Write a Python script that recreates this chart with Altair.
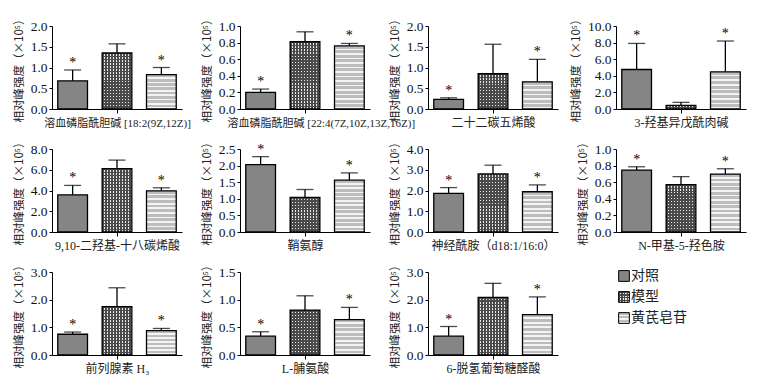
import altair as alt
import pandas as pd

# ---------------- data ----------------
names = ["溶血磷脂酰胆碱 [18:2(9Z,12Z)]", "溶血磷脂酰胆碱 [22:4(7Z,10Z,13Z,16Z)]",
         "二十二碳五烯酸", "3-羟基异戊酰肉碱",
         "9,10-二羟基-十八碳烯酸", "鞘氨醇", "神经酰胺（d18:1/16:0）", "N-甲基-5-羟色胺",
         "前列腺素 H₃", "L-脯氨酸", "6-脱氢葡萄糖醛酸"]
groups = ["对照", "模型", "黄芪皂苷"]
stars = ["*", "", "*"]

ymax = [2.0, 1.0, 2.0, 10.0, 8.0, 2.5, 4.0, 1.0, 3.0, 1.5, 3.0]
ystep = [0.5, 0.2, 0.5, 2.0, 2.0, 0.5, 1.0, 0.2, 1.0, 0.5, 1.0]

ctrl_mean = [0.68, 0.20, 0.23, 4.76, 3.58, 2.03, 1.86, 0.746, 0.75, 0.34, 0.68]
ctrl_sd = [0.26, 0.04, 0.04, 3.14, 0.91, 0.24, 0.28, 0.04, 0.08, 0.08, 0.35]
model_mean = [1.35, 0.81, 0.85, 0.44, 6.11, 1.04, 2.80, 0.571, 1.75, 0.81, 2.08]
model_sd = [0.22, 0.12, 0.71, 0.36, 0.82, 0.24, 0.42, 0.096, 0.68, 0.26, 0.51]
treat_mean = [0.83, 0.76, 0.656, 4.48, 3.97, 1.56, 1.94, 0.698, 0.88, 0.64, 1.46]
treat_sd = [0.17, 0.03, 0.54, 3.71, 0.29, 0.22, 0.33, 0.064, 0.08, 0.22, 0.64]

YTITLE = "相对峰强度（×10⁵）"
SERIF = "Liberation Serif, Noto Sans CJK SC"
CJK = "Noto Sans CJK SC, Liberation Serif"

W, H = 130, 83
CTRL_FILL = "#858585"
DARK = "#4a4a4a"
LIGHT = "#e8e8e8"
TGRAY = "#bdbdbd"
TWHITE = "#f4f4f4"
CLEAR = "rgba(0,0,0,0)"


def stripes(n, c1, c2, frac, vertical_stack=True):
    stops = []
    for k in range(n):
        a = k / n
        b = (k + frac) / n
        e = (k + 1) / n
        stops += [{"offset": a, "color": c1}, {"offset": b, "color": c1},
                  {"offset": b, "color": c2}, {"offset": e, "color": c2}]
    if vertical_stack:
        return {"gradient": "linear", "x1": 0, "y1": 0, "x2": 0, "y2": 1, "stops": stops}
    return {"gradient": "linear", "x1": 0, "y1": 0, "x2": 1, "y2": 0, "stops": stops}


def panel(i):
    df = pd.DataFrame({
        "group": groups,
        "mean": [ctrl_mean[i], model_mean[i], treat_mean[i]],
        "sd": [ctrl_sd[i], model_sd[i], treat_sd[i]],
        "star": stars,
    })
    df["upper"] = df["mean"] + df["sd"]
    nt = int(round(ymax[i] / ystep[i]))
    ticks = [round(k * ystep[i], 2) for k in range(nt + 1)]

    xs = alt.Scale(domain=groups, paddingInner=0.33, paddingOuter=0.13)
    if i == 1:
        xa = alt.Axis(values=["模型"], labels=False, title=names[i], titleFontSize=11,
                      titleAnchor="start", titleAlign="left", titleX=-13)
    elif i == 0:
        xa = alt.Axis(values=["模型"], labels=False, title=names[i], titleFontSize=11)
    else:
        xa = alt.Axis(values=["模型"], labels=False, title=names[i])
    X = alt.X("group:N", scale=xs, axis=xa)
    ys = alt.Scale(domain=[0, ymax[i]], nice=False, zero=True)
    ya = alt.Axis(values=ticks, format=".1f", title=YTITLE)

    def Y(f):
        return alt.Y(f + ":Q", scale=ys, axis=ya)

    base = alt.Chart(df)
    n_m = max(2, round(model_mean[i] / ymax[i] * H / 3.0))
    n_t = max(2, round(treat_mean[i] / ymax[i] * H / 4.4))

    c = base.transform_filter(alt.datum.group == "对照").mark_bar(
        fill=CTRL_FILL, stroke="black", strokeWidth=1.3).encode(x=X, y=Y("mean"))
    m1 = base.transform_filter(alt.datum.group == "模型").mark_bar(
        fill=stripes(10, DARK, LIGHT, 0.55, False)).encode(x=X, y=Y("mean"))
    m2 = base.transform_filter(alt.datum.group == "模型").mark_bar(
        fill=stripes(n_m, DARK, CLEAR, 0.5, True), stroke="black", strokeWidth=1.3).encode(x=X, y=Y("mean"))
    t = base.transform_filter(alt.datum.group == "黄芪皂苷").mark_bar(
        fill=stripes(n_t, TGRAY, TWHITE, 0.62, True), stroke="black", strokeWidth=1.3).encode(x=X, y=Y("mean"))
    err = base.mark_rule(color="black", strokeWidth=1.3).encode(
        x=X, y=Y("mean"), y2=alt.Y2("upper:Q"))
    cap = base.mark_tick(color="black", thickness=1.3, size=17).encode(x=X, y=Y("upper"))
    star = base.mark_text(dy=-7, fontSize=14, font=SERIF, color="#000000").encode(
        x=X, y=Y("upper"), text="star:N")
    return alt.layer(c, m1, m2, t, err, cap, star).properties(width=W, height=H)


def legend():
    ldf = pd.DataFrame({"group": groups})
    Yl = alt.Y("group:N", scale=alt.Scale(domain=groups, type="point", range=[4, 46], padding=0),
               axis=None)
    b = alt.Chart(ldf)
    sx = alt.value(8)
    s1 = b.transform_filter(alt.datum.group == "对照").mark_square(
        size=115, fill=CTRL_FILL, stroke="black", strokeWidth=1, opacity=1).encode(x=sx, y=Yl)
    s2a = b.transform_filter(alt.datum.group == "模型").mark_square(
        size=115, fill=stripes(4, DARK, LIGHT, 0.55, False), opacity=1).encode(x=sx, y=Yl)
    s2b = b.transform_filter(alt.datum.group == "模型").mark_square(
        size=115, fill=stripes(4, DARK, CLEAR, 0.5, True), stroke="black", strokeWidth=1, opacity=1).encode(x=sx, y=Yl)
    s3 = b.transform_filter(alt.datum.group == "黄芪皂苷").mark_square(
        size=115, fill=stripes(3, TGRAY, TWHITE, 0.6, True), stroke="black", strokeWidth=1, opacity=1).encode(x=sx, y=Yl)
    txt = b.mark_text(align="left", baseline="middle", fontSize=14, font=CJK, color="#222").encode(
        x=alt.value(15), y=Yl, text="group:N")
    return alt.layer(s1, s2a, s2b, s3, txt).properties(width=W, height=H)


panels = [panel(i) for i in range(11)] + [legend()]

chart = alt.concat(*panels, columns=4, spacing={"row": 40, "column": 58}, bounds="flush").configure_view(
    stroke=None
).configure_axis(
    domainColor="black", tickColor="black", domainWidth=1, grid=False,
    labelColor="#111", titleColor="#222", titleFontWeight="normal",
).configure_axisX(
    titleFont=SERIF, titleFontSize=12, titlePadding=4, tickSize=4,
).configure_axisY(
    labelFont=SERIF, labelFontSize=13.5, labelPadding=2, tickSize=3,
    titleFont=CJK, titleFontSize=11.5, titlePadding=6,
).properties(background="white")

chart.save("out.html", embed_options={"renderer": "svg", "actions": False})
